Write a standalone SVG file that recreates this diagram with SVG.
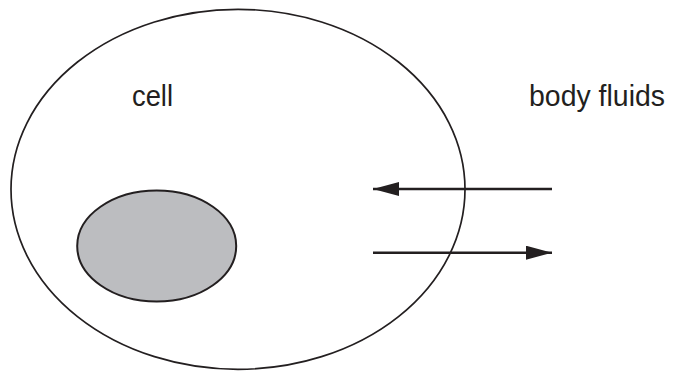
<svg xmlns="http://www.w3.org/2000/svg" width="673" height="372" viewBox="0 0 673 372">
<style>
.line{stroke:#231f20;fill:none}
.lbl{font-family:"Liberation Sans",Arial,sans-serif;font-size:29px;fill:#231f20}
</style>
<defs>
<marker id="ah" viewBox="0 0 26 14" refX="26" refY="7" markerWidth="26" markerHeight="14" markerUnits="userSpaceOnUse" orient="auto">
<path d="M0,0 L26,7 L0,14 Z" fill="#231f20"/>
</marker>
</defs>
<rect width="673" height="372" fill="#ffffff"/>
<g id="cell">
<ellipse cx="238" cy="189.3" rx="227" ry="180" class="line" stroke-width="1.7"/>
<text class="lbl" x="132" y="106" textLength="41" lengthAdjust="spacingAndGlyphs">cell</text>
</g>
<g id="nucleus">
<ellipse cx="156.7" cy="246" rx="79.5" ry="55.5" fill="#bcbdc0" stroke="#231f20" stroke-width="2"/>
</g>
<g id="body-fluids">
<text class="lbl" x="529" y="106" textLength="136" lengthAdjust="spacingAndGlyphs">body fluids</text>
</g>
<g id="connectors">
<line x1="552" y1="189" x2="373" y2="189" class="line" stroke-width="2.6" marker-end="url(#ah)"/>
<line x1="373" y1="252.7" x2="552" y2="252.7" class="line" stroke-width="2.6" marker-end="url(#ah)"/>
</g>
</svg>
